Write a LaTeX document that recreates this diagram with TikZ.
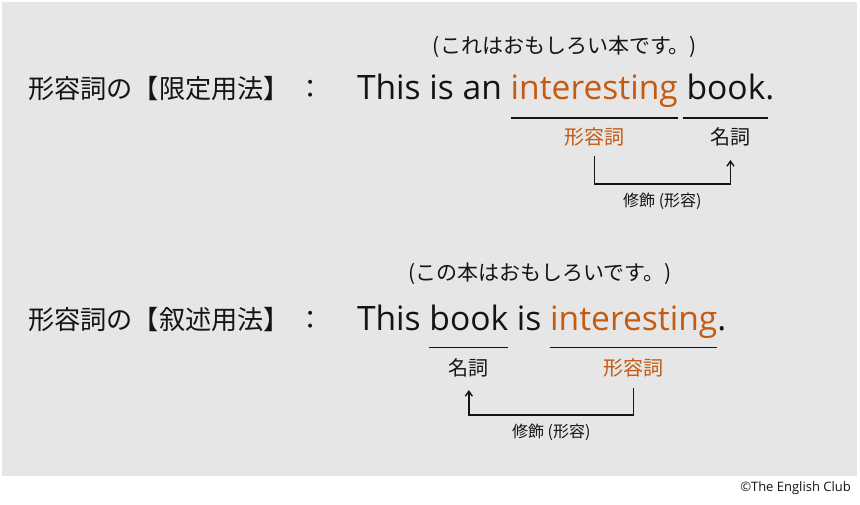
\documentclass[tikz,border=0pt]{standalone}
\usepackage{fontspec}
\setmainfont{Open Sans}
\newfontfamily\jpfont{Noto Sans CJK JP}
\usepackage{tikz}
\usetikzlibrary{arrows.meta}

\definecolor{bggray}{HTML}{E7E6E6}
\definecolor{adjorange}{HTML}{C55A11}
\definecolor{inkblack}{HTML}{141414}

\begin{document}
\begin{tikzpicture}[x=1pt,y=-1pt,
		word/.style={inner sep=0pt,outer sep=0pt,text=inkblack,font=\fontsize{33.6}{33.6}\selectfont},
		head/.style={inner sep=0pt,text=inkblack,font=\jpfont\fontsize{26.2}{26.2}\selectfont},
		trans/.style={inner sep=0pt,text=inkblack,font=\jpfont\fontsize{21}{21}\selectfont},
		poslabel/.style={inner sep=0pt,text=inkblack,font=\jpfont\fontsize{20}{20}\selectfont},
		modtext/.style={inner sep=0pt,text=inkblack,font=\jpfont\fontsize{16}{16}\selectfont},
		uline/.style={line width=1.3pt,inkblack},
		modarrow/.style={line width=1.4pt,inkblack,-{Straight Barb[length=5pt,width=7pt]}}]
		\useasboundingbox (0,0) rectangle (860,504);
		\fill[bggray] (2,2) rectangle (857,476);

		% 限定用法
		\begin{scope}
			\node[trans] (tr1) at (565,47) {(これはおもしろい本です。)};
			\node[head,anchor=west] (h1) at (28,89) {形容詞の【限定用法】\hspace{7pt}：};
			\node[word,anchor=base west] (s1) at (357,99.5) {This is an};
			\node[word,anchor=base west,text=adjorange] (adj1w) at ([xshift=8.7pt]s1.base east) {interesting};
			\node[word,anchor=base west] (noun1w) at ([xshift=8.7pt]adj1w.base east) {book.};
			\draw[uline] ([yshift=-18.5pt]adj1w.base west) -- ([yshift=-18.5pt]adj1w.base east);
			\draw[uline] ([xshift=-4pt,yshift=-18.5pt]noun1w.base west) -- ([xshift=-6pt,yshift=-18.5pt]noun1w.base east);
			\node[poslabel,text=adjorange] (adj1) at ([yshift=-37.5pt]adj1w.base) {形容詞};
			\node[poslabel] (noun1) at ([yshift=-37.5pt]noun1w.base) {名詞};
			\draw[modarrow] ([yshift=-19pt]adj1.center) -- ++(0,28)
				-| node[pos=0.25,below=8pt,modtext]{修飾 (形容)} ([yshift=-23pt]noun1.center);
		\end{scope}

		% 叙述用法
		\begin{scope}
			\node[trans] (tr2) at (540,274) {(この本はおもしろいです。)};
			\node[head,anchor=west] (h2) at (28,320) {形容詞の【叙述用法】\hspace{7pt}：};
			\node[word,anchor=base west] (s2) at (357,330.5) {This};
			\node[word,anchor=base west] (noun2w) at ([xshift=8.7pt]s2.base east) {book};
			\node[word,anchor=base west] (s2b) at ([xshift=8.7pt]noun2w.base east) {is};
			\node[word,anchor=base west,text=adjorange] (adj2w) at ([xshift=8.7pt]s2b.base east) {interesting};
			\node[word,anchor=base west] (s2c) at (adj2w.base east) {.};
			\draw[uline] ([yshift=-17pt]noun2w.base west) -- ([yshift=-17pt]noun2w.base east);
			\draw[uline] ([yshift=-17pt]adj2w.base west) -- ([yshift=-17pt]adj2w.base east);
			\node[poslabel] (noun2) at ([yshift=-37.5pt]noun2w.base) {名詞};
			\node[poslabel,text=adjorange] (adj2) at ([yshift=-37.5pt]adj2w.base) {形容詞};
			\draw[modarrow] ([yshift=-20pt]adj2.center) -- ++(0,27)
				-| node[pos=0.25,below=8pt,modtext]{修飾 (形容)} ([yshift=-22pt]noun2.center);
		\end{scope}

		\node[inner sep=0pt,anchor=east,text=inkblack,font=\fontsize{13}{13}\selectfont] (copy) at (851,488) {©The English Club};
	\end{tikzpicture}
\end{document}
